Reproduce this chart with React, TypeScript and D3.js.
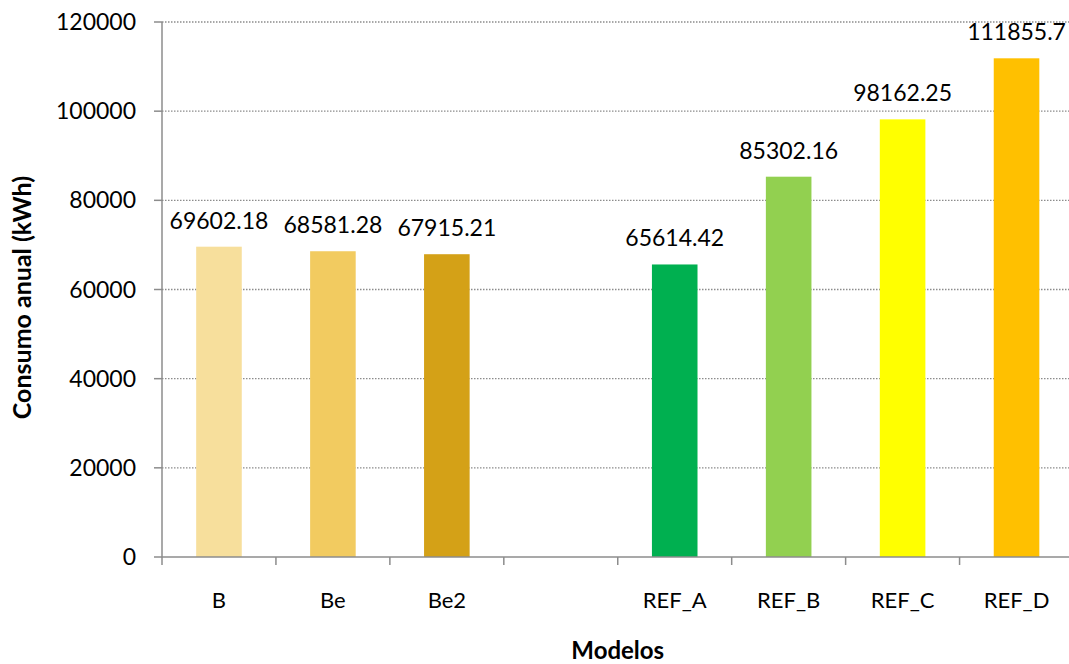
import React from "react";
import * as d3 from "d3";

const categories = ["B", "Be", "Be2", "", "REF_A", "REF_B", "REF_C", "REF_D"];
const values: (number | null)[] = [69602.18, 68581.28, 67915.21, null, 65614.42, 85302.16, 98162.25, 111855.7];
const valueLabels = ["69602.18", "68581.28", "67915.21", "", "65614.42", "85302.16", "98162.25", "111855.7"];
const colors = ["#F7DF9C", "#F2CB60", "#D4A117", "none", "#00B050", "#92D050", "#FFFF00", "#FFC000"];
const yTicks = [0, 20000, 40000, 60000, 80000, 100000, 120000];

const W = 1069;
const H = 664;
const left = 162;
const right = 1073.5;
const top = 22;
const bottom = 557;
const FONT = "Lato, 'Open Sans', sans-serif";

export default function App() {
  const x = d3.scaleBand<string>().domain(categories.map((c, i) => String(i))).range([left, right]).paddingInner(0.6).paddingOuter(0.3);
  const y = d3.scaleLinear().domain([0, 120000]).range([bottom, top]);
  const step = x.step();
  const boundaries = d3.range(categories.length + 1).map((i) => left + i * step);

  return (
    <svg width={W} height={H} style={{ position: "absolute", left: 0, top: 0 }} fontFamily={FONT}>
      <rect x={0} y={0} width={W} height={H} fill="#fff" />
      {yTicks.filter((t) => t > 0).map((t) => (
        <line key={"g" + t} x1={left} x2={right} y1={y(t)} y2={y(t)} stroke="#8c8c8c" strokeWidth={1.3} strokeDasharray="1.5 1.5" />
      ))}
      {categories.map((c, i) => {
        const v = values[i];
        if (v == null) return null;
        const bx = x(String(i))!;
        return (
          <g key={"b" + i}>
            <rect x={bx} y={y(v)} width={x.bandwidth()} height={bottom - y(v)} fill={colors[i]} />
            <text x={bx + x.bandwidth() / 2} y={y(v) - 18} textAnchor="middle" fontSize={23} fill="#000">
              {valueLabels[i]}
            </text>
          </g>
        );
      })}
      <line x1={left} x2={left} y1={top} y2={bottom} stroke="#8c8c8c" strokeWidth={1.5} />
      <line x1={left} x2={right} y1={bottom} y2={bottom} stroke="#8c8c8c" strokeWidth={1.5} />
      {yTicks.map((t) => (
        <g key={"yt" + t}>
          <line x1={left - 8} x2={left} y1={y(t)} y2={y(t)} stroke="#8c8c8c" strokeWidth={1.5} />
          <text x={136} y={y(t) + 8} textAnchor="end" fontSize={23} fill="#000">
            {t}
          </text>
        </g>
      ))}
      {boundaries.map((bx, i) => (
        <line key={"xt" + i} x1={bx} x2={bx} y1={bottom} y2={bottom + 8} stroke="#8c8c8c" strokeWidth={1.5} />
      ))}
      {categories.map((c, i) => (
        <text key={"xl" + i} x={x(String(i))! + x.bandwidth() / 2} y={608} textAnchor="middle" fontSize={22} fill="#000">
          {c}
        </text>
      ))}
      <text x={(left + right) / 2} y={659} textAnchor="middle" fontSize={24} fontWeight="bold" fill="#000">
        Modelos
      </text>
      <text transform={`translate(31, ${(top + bottom) / 2 + 8}) rotate(-90)`} textAnchor="middle" fontSize={25} fontWeight="bold" fill="#000">
        Consumo anual (kWh)
      </text>
    </svg>
  );
}
